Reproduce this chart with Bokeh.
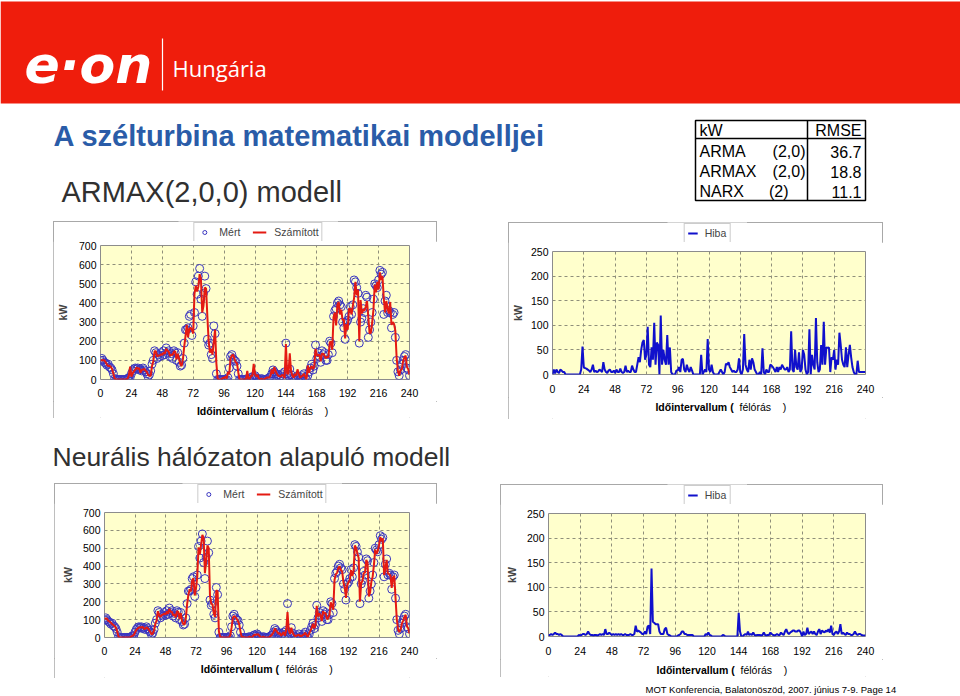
from bokeh.plotting import figure
from bokeh.models import Range1d, FixedTicker, Legend, LegendItem, Spacer, ColumnDataSource
from bokeh.layouts import column, row
from bokeh.embed import file_html
from bokeh.resources import INLINE
from bokeh.core.properties import value

FONT = "Liberation Sans"

# ---------------- data ----------------
intervals = list(range(0, 241))          # half-hour intervals
x_ticks = [0, 24, 48, 72, 96, 120, 144, 168, 192, 216, 240]
y_ticks_power = [0, 100, 200, 300, 400, 500, 600, 700]
y_ticks_error = [0, 50, 100, 150, 200, 250]

measured = [
    100, 110, 100, 90, 85, 75, 80, 65, 60, 50, 30, 5,
    0, 0, 0, 0, 0, 0, 0, 0, 0, 5, 10, 10,
    30, 45, 55, 60, 55, 60, 50, 55, 45, 60, 50, 40,
    30, 15, 25, 45, 80, 100, 150, 140, 110, 130, 120, 140,
    125, 150, 130, 165, 140, 150, 120, 135, 110, 150, 140, 100,
    140, 90, 70, 75, 110, 190, 260, 260, 270, 330, 340, 230,
    280, 350, 510, 445, 540, 580, 420, 330, 450, 540, 475, 210,
    180, 190, 130, 110, 280, 240, 30, 0, 0, 0, 0, 0,
    0, 0, 0, 10, 60, 120, 130, 110, 100, 95, 70, 30,
    0, 0, 0, 0, 0, 0, 5, 0, 0, 10, 15, 10,
    20, 10, 5, 0, 0, 5, 0, 0, 0, 0, 5, 10,
    15, 30, 50, 40, 30, 20, 25, 10, 20, 30, 10, 40,
    190, 30, 20, 55, 25, 10, 5, 0, 10, 20, 5, 0,
    10, 20, 30, 10, 0, 20, 40, 60, 80, 50, 70, 180,
    110, 140, 120, 90, 150, 130, 140, 100, 100, 130, 200, 190,
    140, 330, 360, 370, 400, 410, 390, 380, 300, 270, 210, 300,
    310, 330, 380, 340, 390, 520, 510, 480, 450, 190, 300, 320,
    370, 350, 440, 430, 220, 260, 300, 350, 420, 500, 490, 480,
    520, 570, 550, 560, 340, 410, 440, 350, 360, 350, 270, 340,
    350, 220, 100, 40, 20, 50, 80, 100, 120, 130, 60, 50, 20,
]

computed_armax = [
    100, 100, 102, 100, 90, 78, 70, 73, 65, 55, 30, 5,
    0, 0, 0, 0, 0, 0, 0, 0, 0, 5, 20, 67,
    15, 32, 43, 50, 63, 55, 60, 35, 50, 52, 55, 46,
    40, 23, 20, 20, 70, 95, 147, 148, 120, 125, 125, 132,
    128, 140, 135, 160, 152, 145, 123, 130, 128, 145, 148, 105,
    135, 108, 80, 70, 105, 170, 225, 285, 220, 265, 270, 260,
    240, 447, 490, 460, 485, 550, 525, 350, 385, 480, 475, 330,
    200, 140, 160, 130, 200, 260, 85, 5, 0, 0, 0, 8,
    8, 15, 5, 40, 28, 110, 125, 130, 110, 90, 85, 38,
    0, 0, 0, 0, 0, 0, 45, 0, 5, 20, 20, 82,
    30, 15, 25, 5, 0, 5, 0, 0, 5, 10, 10, 10,
    20, 52, 30, 65, 45, 30, 20, 18, 15, 25, 20, 7,
    185, 30, 30, 137, 45, 20, 10, 30, 20, 53, 30, 10,
    15, 20, 30, 15, 0, 73, 35, 60, 70, 55, 65, 160,
    128, 125, 130, 95, 135, 135, 125, 110, 120, 115, 190, 200,
    155, 325, 350, 282, 390, 405, 340, 365, 310, 315, 215, 290,
    260, 370, 370, 340, 385, 428, 510, 440, 470, 200, 415, 345,
    365, 360, 380, 410, 327, 240, 245, 296, 365, 495, 455, 510,
    470, 560, 520, 540, 425, 350, 410, 370, 345, 405, 285, 300,
    290, 255, 115, 45, 20, 50, 52, 95, 115, 125, 65, 55, 25,
]

error_armax = [
    0, 10, 2, 10, 5, 3, 10, 8, 5, 5, 0, 0,
    0, 0, 0, 0, 0, 0, 0, 0, 0, 0, 10, 57,
    15, 13, 12, 10, 8, 5, 10, 20, 5, 8, 5, 6,
    10, 8, 5, 25, 10, 5, 3, 8, 10, 5, 5, 8,
    3, 10, 5, 5, 12, 5, 3, 5, 18, 5, 8, 5,
    5, 18, 10, 5, 5, 20, 35, 25, 50, 65, 70, 30,
    40, 97, 20, 15, 55, 30, 105, 20, 65, 60, 0, 120,
    20, 50, 30, 20, 80, 20, 55, 5, 0, 0, 0, 8,
    8, 15, 5, 30, 32, 10, 5, 20, 10, 5, 15, 8,
    0, 0, 0, 0, 0, 0, 40, 0, 5, 10, 5, 72,
    10, 5, 20, 5, 0, 0, 0, 0, 5, 10, 5, 0,
    5, 22, 20, 25, 15, 10, 5, 8, 5, 5, 10, 33,
    5, 0, 10, 82, 20, 10, 5, 30, 10, 33, 25, 10,
    5, 0, 0, 5, 0, 53, 5, 0, 10, 5, 5, 20,
    18, 15, 10, 5, 15, 5, 15, 10, 20, 15, 10, 10,
    15, 5, 10, 88, 10, 5, 50, 15, 10, 45, 5, 10,
    50, 40, 10, 0, 5, 92, 0, 40, 20, 10, 115, 25,
    5, 10, 60, 20, 107, 20, 55, 54, 55, 5, 35, 30,
    50, 10, 30, 20, 85, 60, 30, 20, 15, 55, 15, 40,
    60, 35, 15, 5, 0, 0, 28, 5, 5, 5, 5, 5, 5,
]

computed_nn = [
    103, 107, 105, 93, 90, 83, 75, 70, 63, 55, 33, 5,
    0, 0, 0, 0, 0, 0, 0, 0, 0, 5, 10, 13,
    28, 42, 50, 55, 58, 55, 60, 50, 48, 57, 52, 43,
    33, 17, 22, 40, 77, 95, 147, 125, 115, 125, 128, 135,
    128, 145, 133, 160, 143, 145, 123, 130, 113, 147, 145, 103,
    137, 93, 75, 72, 107, 185, 238, 270, 258, 320, 332, 235,
    275, 340, 505, 465, 518, 575, 558, 360, 422, 515, 500, 235,
    190, 185, 135, 115, 265, 258, 35, 3, 2, 0, 0, 0,
    0, 0, 2, 13, 55, 110, 120, 115, 105, 92, 73, 33,
    3, 3, 0, 0, 0, 0, 5, 0, 0, 10, 15, 15,
    17, 18, 8, 2, 0, 5, 0, 0, 0, 0, 5, 10,
    18, 28, 50, 40, 30, 20, 25, 10, 20, 30, 10, 40,
    142, 40, 20, 55, 28, 15, 8, 10, 13, 15, 8, 8,
    13, 18, 27, 13, 3, 22, 37, 52, 77, 52, 67, 177,
    118, 135, 123, 92, 147, 135, 137, 103, 108, 125, 197, 180,
    155, 322, 355, 362, 390, 398, 378, 370, 310, 282, 222, 292,
    310, 320, 377, 345, 372, 515, 502, 470, 445, 200, 305, 317,
    360, 365, 435, 418, 230, 252, 312, 340, 405, 492, 468, 485,
    517, 562, 540, 555, 350, 385, 435, 358, 355, 347, 278, 335,
    345, 223, 103, 45, 30, 45, 77, 95, 115, 127, 62, 52, 22,
]

error_nn = [
    3, 3, 5, 3, 5, 8, 5, 5, 3, 5, 3, 0,
    0, 0, 0, 0, 0, 0, 0, 0, 0, 0, 0, 3,
    2, 3, 5, 5, 3, 5, 10, 5, 3, 3, 2, 3,
    3, 2, 3, 5, 3, 5, 3, 15, 5, 5, 8, 5,
    3, 5, 3, 5, 3, 5, 3, 5, 3, 3, 5, 3,
    3, 3, 5, 3, 3, 5, 22, 10, 12, 10, 8, 5,
    5, 10, 5, 20, 22, 5, 138, 30, 28, 25, 25, 25,
    10, 5, 5, 5, 15, 18, 5, 3, 2, 0, 0, 0,
    0, 0, 2, 3, 5, 10, 10, 5, 5, 3, 3, 3,
    3, 3, 0, 0, 0, 0, 0, 0, 0, 0, 0, 5,
    3, 8, 3, 2, 0, 0, 0, 0, 0, 0, 0, 0,
    3, 2, 0, 0, 0, 0, 0, 0, 0, 0, 0, 0,
    48, 10, 0, 0, 3, 5, 3, 10, 3, 5, 3, 8,
    3, 2, 3, 3, 3, 2, 3, 8, 3, 2, 3, 3,
    8, 5, 3, 2, 3, 5, 3, 3, 8, 5, 3, 10,
    15, 8, 5, 8, 10, 12, 12, 10, 10, 12, 12, 8,
    0, 10, 3, 5, 18, 5, 8, 10, 5, 10, 5, 3,
    10, 15, 5, 12, 10, 8, 12, 10, 15, 8, 22, 5,
    3, 8, 10, 5, 10, 25, 5, 8, 5, 3, 8, 5,
    5, 3, 3, 5, 10, 5, 3, 5, 5, 3, 2, 2, 2,
]

rmse_models = ["ARMA", "ARMAX", "NARX"]
rmse_orders = ["(2,0)", "(2,0)", "(2)"]
rmse_values = ["36.7", "18.8", "11.1"]

NB = "\u00a0"
x_title_parts = ["Időintervallum (", "félórás" + NB * 4 + ")"]
x_title_styles = ["bold", "normal"]
x_title_aligns = ["right", "left"]

# ---------------- styles ----------------
RED_BAND = "#ef1d0c"
TITLE_BLUE = "#2a5ca8"
PLOT_BG = "#ffffcc"
GRID = "#8f8f7a"
MARK = "#3a36c0"
RED = "#e41a12"
BLUE = "#1010cc"
PANEL = "1px solid #a8a8a8"
LEG_H = 20


def deco_fig(w, h):
    p = figure(width=w, height=h, x_range=Range1d(0, w), y_range=Range1d(h, 0),
               output_backend="svg", toolbar_location=None,
               x_axis_location=None, y_axis_location=None, min_border=0,
               outline_line_color=None, background_fill_color="white",
               border_fill_color="white")
    p.grid.visible = False
    return p


def txt(p, x, y, s, size, style="normal", color="black", align="left", font=FONT):
    p.text(x=[x], y=[y], text=[s], text_font=value(font), text_font_size=size,
           text_font_style=style, text_color=color, text_align=align,
           text_baseline="middle")


def chart(w, h, bl, br, bt, bb, ymax, yticks, kw_standoff, x_standoff):
    p = figure(width=w, height=h, x_range=Range1d(0, 240), y_range=Range1d(0, ymax),
               output_backend="svg", toolbar_location=None,
               min_border_left=bl, min_border_right=br, min_border_top=bt,
               min_border_bottom=bb, background_fill_color=PLOT_BG,
               border_fill_color="white", outline_line_color="#8c8c8c")
    p.xaxis.ticker = FixedTicker(ticks=x_ticks)
    p.yaxis.ticker = FixedTicker(ticks=yticks)
    for ax in (p.xaxis, p.yaxis):
        ax.axis_line_color = None
        ax.major_tick_line_color = None
        ax.minor_tick_line_color = None
        ax.major_tick_out = 0
        ax.major_tick_in = 0
        ax.major_label_text_font = FONT
        ax.major_label_text_font_size = "10.5px"
        ax.major_label_text_color = "black"
    p.xaxis.major_label_standoff = x_standoff
    p.yaxis.major_label_standoff = 4
    p.yaxis.axis_label = "kW"
    p.yaxis.axis_label_text_font = FONT
    p.yaxis.axis_label_text_font_style = "bold"
    p.yaxis.axis_label_text_font_size = "10.5px"
    p.yaxis.axis_label_standoff = kw_standoff
    p.grid.grid_line_color = GRID
    p.grid.grid_line_dash = "3 3"
    p.grid.grid_line_width = 1
    return p


def xlabel_fig(w, h, xs, yc):
    # xs = (right edge of the bold part, start of "félórás  )")
    f = deco_fig(w, h)
    src = ColumnDataSource(dict(x=list(xs), y=[yc] * 2, t=x_title_parts,
                                st=x_title_styles, al=x_title_aligns))
    f.text(x="x", y="y", text="t", source=src, text_font=value(FONT),
           text_font_size="10.5px", text_font_style="st", text_align="al",
           text_baseline="middle", text_color="black")
    return f


def legend_row(w, lw, left, items_fn, glyph_w, standoff):
    lf = figure(width=lw, height=LEG_H, x_range=Range1d(0, 1), y_range=Range1d(0, 1),
                output_backend="svg", toolbar_location=None,
                x_axis_location=None, y_axis_location=None, min_border=0,
                outline_line_color=None, background_fill_color="white",
                border_fill_color="white")
    lf.grid.visible = False
    lg = Legend(items=items_fn(lf), location="top_center", orientation="horizontal",
                label_text_font=FONT, label_text_font_size="10.5px",
                glyph_width=glyph_w, glyph_height=10, label_height=10,
                label_standoff=standoff, spacing=12, padding=3, margin=1,
                border_line_color="#999999", background_fill_color="white",
                background_fill_alpha=1.0)
    lf.add_layout(lg)
    return row(Spacer(width=left, height=LEG_H), lf,
               Spacer(width=w - left - lw, height=LEG_H))


def power_items(lf):
    # legend keys only: single points placed outside the (0..1) view
    lm = lf.scatter(x=[-5], y=[-5], marker="circle", size=8, fill_color=None,
                    line_color=MARK, line_width=1)
    lc = lf.line(x=[-5, -4], y=[-5, -5], line_color=RED, line_width=2)
    return [LegendItem(label="Mért", renderers=[lm]),
            LegendItem(label="Számított", renderers=[lc])]


def error_items(lf):
    le = lf.line(x=[-5, -4], y=[-5, -5], line_color=BLUE, line_width=2)
    return [LegendItem(label="Hiba", renderers=[le])]


def power_panel(w, ch, xh, bl, br, bt, bb, xs_off, computed, xlab_x, xlab_y, kw_so, leg_left):
    leg = legend_row(w, 160, leg_left, power_items, 14, 8)
    p = chart(w, ch, bl, br, bt, bb, 700, y_ticks_power, kw_so, xs_off)
    p.scatter(intervals, measured, marker="circle", size=8, fill_color=None,
              line_color=MARK, line_width=1)
    p.line(intervals, computed, line_color=RED, line_width=2)
    xl = xlabel_fig(w, xh, xlab_x, xlab_y)
    return column(leg, p, xl, styles={"outline": PANEL, "outline-offset": "-1px"})


def error_panel(w, ch, xh, bl, br, bt, bb, xs_off, err, xlab_x, xlab_y, kw_so, leg_left):
    leg = legend_row(w, 80, leg_left, error_items, 10, 7)
    p = chart(w, ch, bl, br, bt, bb, 250, y_ticks_error, kw_so, xs_off)
    p.line(intervals, err, line_color=BLUE, line_width=2)
    xl = xlabel_fig(w, xh, xlab_x, xlab_y)
    return column(leg, p, xl, styles={"outline": PANEL, "outline-offset": "-1px"})


# ---------------- header + titles ----------------
top = deco_fig(960, 220)
top.quad(left=[0], right=[960], top=[1], bottom=[103], fill_color=RED_BAND, line_color=None)
txt(top, 24, 64, "e·on", "52px", "bold italic", "white", font="DejaVu Sans")
top.segment(x0=[162], y0=[38], x1=[162], y1=[90], line_color="white", line_width=1.2)
txt(top, 172, 67, "Hungária", "22px", "normal", "white", font="Open Sans")
txt(top, 53, 135, "A szélturbina matematikai modelljei", "29px", "bold", TITLE_BLUE)
txt(top, 61, 191, "ARMAX(2,0,0) modell", "29px", "normal", "#303030")

# RMSE table
top.quad(left=[695], right=[865], top=[120], bottom=[200], fill_color=None,
         line_color="black", line_width=1.5)
top.segment(x0=[695], y0=[138], x1=[865], y1=[138], line_color="black", line_width=1.5)
top.segment(x0=[807], y0=[120], x1=[807], y1=[200], line_color="black", line_width=1.5)
txt(top, 699, 130, "kW", "16px")
txt(top, 861, 130, "RMSE", "16px", align="right")
for i, (mname, order, val) in enumerate(zip(rmse_models, rmse_orders, rmse_values)):
    yy = 151 + 20 * i
    txt(top, 699, yy, mname, "16px")
    txt(top, 788 if order == "(2)" else 805, yy, order, "16px", align="right")
    txt(top, 861, yy, val, "16px", align="right")

# ---------------- charts ----------------
# panel: legend row (20) + chart + x-title strip
tl = power_panel(384, 160, 17, 46, 28, 4, 22, 9, computed_armax,
                 (217, 225), 9.7, 7, 125)
tr = error_panel(375, 155, 22, 40, 18, 9, 23, 10, error_armax,
                 (217, 224), 9.7, 4, 159)
bl_ = power_panel(383, 155, 20, 50, 28, 9, 21, 9, computed_nn,
                  (219, 228), 10.3, 6, 128)
br_ = error_panel(383, 155, 18, 48, 18, 9, 23, 10, error_nn,
                  (225, 232), 10.3, 6, 167)

mid = deco_fig(960, 62)
txt(mid, 52, 36, "Neurális hálózaton alapuló modell", "26.5px", "normal", "#303030")

foot = deco_fig(960, 16)
txt(foot, 645, 9, "MOT Konferencia, Balatonöszöd, 2007. június 7-9.  Page 14", "9.5px")

row1 = row(Spacer(width=53, height=200),
           column(Spacer(width=384, height=1), tl),
           Spacer(width=71, height=200),
           column(Spacer(width=375, height=2), tr),
           Spacer(width=77, height=200))
row2 = row(Spacer(width=54, height=198),
           column(Spacer(width=383, height=1), bl_),
           Spacer(width=63, height=198),
           column(Spacer(width=383, height=2), br_),
           Spacer(width=77, height=198))

layout = column(top, row1, mid, row2, foot)

open("out.html", "w").write(file_html(layout, INLINE))
